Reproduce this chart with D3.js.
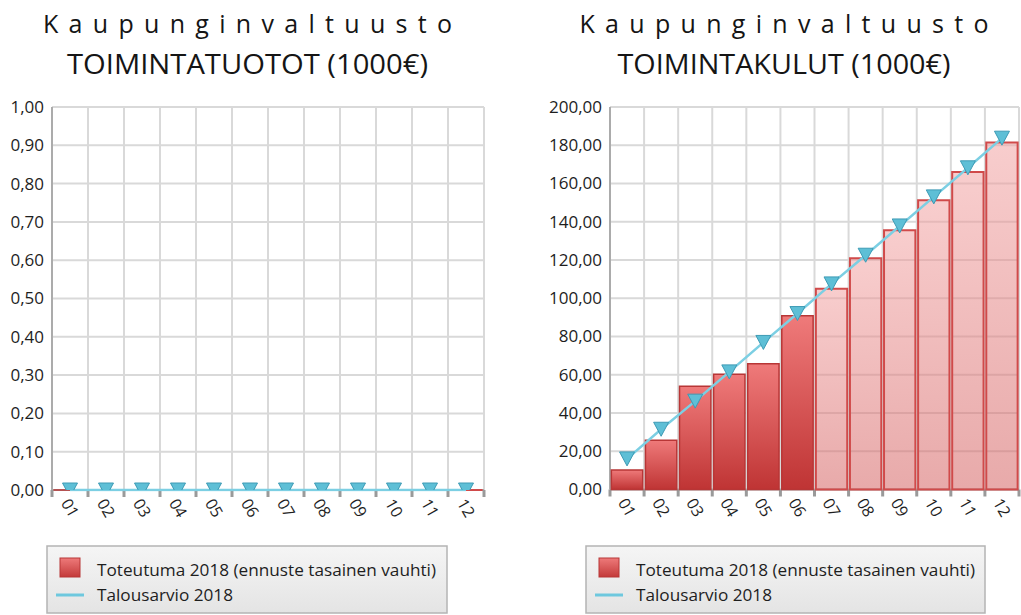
<!DOCTYPE html>
<html><head><meta charset="utf-8">
<script src="https://cdn.jsdelivr.net/npm/d3@7/dist/d3.min.js"></script>
<style>
html,body{margin:0;padding:0;background:#fff;}
svg{display:block;font-family:"Open Sans","Noto Sans",sans-serif;}
</style></head>
<body>
<svg id="c" width="1021" height="615"></svg>
<script>
// ---- data ----
const months = ["01","02","03","04","05","06","07","08","09","10","11","12"];
const barKind = ["actual","actual","actual","actual","actual","actual","forecast","forecast","forecast","forecast","forecast","forecast"];
const tuototToteutuma = [0,0,0,0,0,0,0,0,0,0,0,0];
const tuototTalousarvio = [0,0,0,0,0,0,0,0,0,0,0,0];
const kulutToteutuma = [10.2, 25.8, 54.0, 60.3, 65.7, 90.8, 105.0, 120.9, 135.5, 151.2, 166.0, 181.5];
const kulutTalousarvio = [16.0, 31.5, 46.2, 61.5, 76.9, 92.0, 107.5, 122.5, 137.8, 153.0, 168.2, 183.7];
const tuototTicks = [0,0.1,0.2,0.3,0.4,0.5,0.6,0.7,0.8,0.9,1.0];
const kulutTicks = [0,20,40,60,80,100,120,140,160,180,200];
const titleLine1 = "K a u p u n g i n v a l t u u s t o";
const titles = ["TOIMINTATUOTOT (1000€)","TOIMINTAKULUT (1000€)"];
const legendLabels = ["Toteutuma 2018 (ennuste tasainen vauhti)","Talousarvio 2018"];

// ---- layout ----
const charts = [
  {title:titles[0], bars:tuototToteutuma, line:tuototTalousarvio, ticks:tuototTicks,
   plot:{x0:52,x1:484,y0:107,y1:490}, cx:247.5, t1w:409, t2w:361, legendX:47, legendW:400},
  {title:titles[1], bars:kulutToteutuma, line:kulutTalousarvio, ticks:kulutTicks,
   plot:{x0:610,x1:1019,y0:107,y1:489.5}, cx:784, t1w:409, t2w:333, legendX:586, legendW:399}
];

const loc = d3.formatLocale({decimal:",", thousands:" ", grouping:[3], currency:["","€"]});
const fmt = loc.format(".2f");

const svg = d3.select("#c");
const defs = svg.append("defs");

function grad(id, stops){
  const g = defs.append("linearGradient").attr("id",id).attr("x1",0).attr("y1",0).attr("x2",0).attr("y2",1);
  stops.forEach(s=>g.append("stop").attr("offset",s[0]).attr("stop-color",s[1]).attr("stop-opacity",s[2]==null?1:s[2]));
}
grad("gActual",[[0,"#ef7a7a"],[1,"#bf3434"]]);
grad("gForecast",[[0,"#f2a4a4",0.55],[1,"#d56464",0.55]]);
grad("gLegend",[[0,"#f5f5f5"],[1,"#e4e4e4"]]);
grad("gIcon",[[0,"#ee7a7a"],[1,"#c33a3a"]]);

charts.forEach((c,ci)=>{
  const g = svg.append("g");
  const p = c.plot;
  const x = d3.scaleBand().domain(months).range([p.x0,p.x1]).paddingInner(0.08).paddingOuter(0.04);
  const xb = d3.scaleBand().domain(months).range([p.x0,p.x1]); // full bands for grid
  const y = d3.scaleLinear().domain([c.ticks[0], c.ticks[c.ticks.length-1]]).range([p.y1,p.y0]);

  // titles
  g.append("text").attr("x",c.cx).attr("y",33).attr("text-anchor","middle")
    .attr("font-size",25).attr("fill","#151515")
    .attr("textLength",c.t1w).attr("lengthAdjust","spacing").text(titleLine1);
  g.append("text").attr("x",c.cx).attr("y",74).attr("text-anchor","middle")
    .attr("font-size",27).attr("fill","#151515")
    .attr("textLength",c.t2w).attr("lengthAdjust","spacingAndGlyphs").text(c.title);

  // grid
  const vx = months.map(m=>xb(m)).concat([p.x1]);
  g.selectAll(".hg").data(c.ticks).join("line")
    .attr("x1",p.x0).attr("x2",p.x1).attr("y1",d=>y(d)).attr("y2",d=>y(d))
    .attr("stroke","#d9d9d9").attr("stroke-width",2);
  g.selectAll(".vg").data(vx).join("line")
    .attr("x1",d=>d).attr("x2",d=>d).attr("y1",p.y0).attr("y2",p.y1)
    .attr("stroke","#d9d9d9").attr("stroke-width",2);

  // axes
  g.append("line").attr("x1",p.x0).attr("x2",p.x0).attr("y1",p.y0).attr("y2",p.y1)
    .attr("stroke","#ababab").attr("stroke-width",2);
  g.append("line").attr("x1",p.x0).attr("x2",p.x1).attr("y1",p.y1).attr("y2",p.y1)
    .attr("stroke","#ababab").attr("stroke-width",2);
  g.selectAll(".tk").data(vx).join("line")
    .attr("x1",d=>d).attr("x2",d=>d).attr("y1",p.y1).attr("y2",p.y1+7)
    .attr("stroke","#9a9a9a").attr("stroke-width",3);

  // y labels
  g.selectAll(".yl").data(c.ticks).join("text")
    .attr("x",p.x0-8).attr("y",d=>y(d)).attr("dy","0.35em").attr("text-anchor","end")
    .attr("font-size",17).attr("fill","#1e1e1e").text(d=>fmt(d));

  // x labels
  g.selectAll(".xl").data(months).join("text")
    .attr("transform",d=>`translate(${xb(d)+xb.bandwidth()/2},${p.y1+18}) rotate(60)`)
    .attr("text-anchor","middle").attr("dy","0.35em")
    .attr("font-size",16).attr("fill","#1e1e1e").text(d=>d);

  // bars
  g.selectAll(".bar").data(c.bars).join("path")
    .attr("d",(d,i)=>{
      const x0=x(months[i]), w=x.bandwidth(), yt=y(d), yb=y(0);
      return `M${x0},${yb}V${yt}H${x0+w}V${yb}Z`;
    })
    .attr("fill",(d,i)=>barKind[i]==="actual"?"url(#gActual)":"url(#gForecast)")
    .attr("stroke",(d,i)=>barKind[i]==="actual"?"#b83636":"#d04a4a")
    .attr("stroke-width",(d,i)=>barKind[i]==="actual"?1.5:2);

  // clip for line/markers
  const cid = "clip"+ci;
  defs.append("clipPath").attr("id",cid).append("rect")
    .attr("x",p.x0).attr("y",p.y0-12).attr("width",p.x1-p.x0).attr("height",p.y1-p.y0+13.5);
  const lg = g.append("g").attr("clip-path",`url(#${cid})`);
  const cx = (d,i)=>xb(months[i])+xb.bandwidth()/2;
  lg.append("path").datum(c.line)
    .attr("d",d3.line().x(cx).y(d=>y(d)))
    .attr("fill","none").attr("stroke","#7ccfe3").attr("stroke-width",2.5);
  lg.selectAll(".mk").data(c.line).join("path")
    .attr("d",(d,i)=>{const px=cx(d,i), py=y(d); return `M${px-7.5},${py-7}L${px+7.5},${py-7}L${px},${py+7}Z`;})
    .attr("fill","#5ebfd6").attr("stroke","#3e9bb5").attr("stroke-width",1);
  // cover marker parts below the axis
  const mk2 = "clipm"+ci;
  lg.selectAll("path").filter((d,i)=>i>0).attr("clip-path",`url(#${mk2})`);
  defs.append("clipPath").attr("id",mk2).append("rect")
    .attr("x",p.x0).attr("y",p.y0-12).attr("width",p.x1-p.x0).attr("height",p.y1-p.y0+12);

  // legend
  const L = g.append("g").attr("transform",`translate(${c.legendX},546)`);
  L.append("rect").attr("x",0).attr("y",0).attr("width",c.legendW).attr("height",67)
    .attr("fill","url(#gLegend)").attr("stroke","#b4b4b4").attr("stroke-width",1.5);
  L.append("rect").attr("x",13).attr("y",12).attr("width",20).attr("height",19)
    .attr("fill","url(#gIcon)").attr("stroke","#b83636").attr("stroke-width",1);
  L.append("text").attr("x",50).attr("y",30).attr("font-size",17).attr("fill","#1e1e1e")
    .attr("textLength",339).attr("lengthAdjust","spacingAndGlyphs").text(legendLabels[0]);
  L.append("line").attr("x1",9).attr("x2",37).attr("y1",49).attr("y2",49)
    .attr("stroke","#6ec8de").attr("stroke-width",3);
  L.append("text").attr("x",50).attr("y",55).attr("font-size",17).attr("fill","#1e1e1e")
    .attr("textLength",136).attr("lengthAdjust","spacingAndGlyphs").text(legendLabels[1]);
});
</script>
</body></html>
